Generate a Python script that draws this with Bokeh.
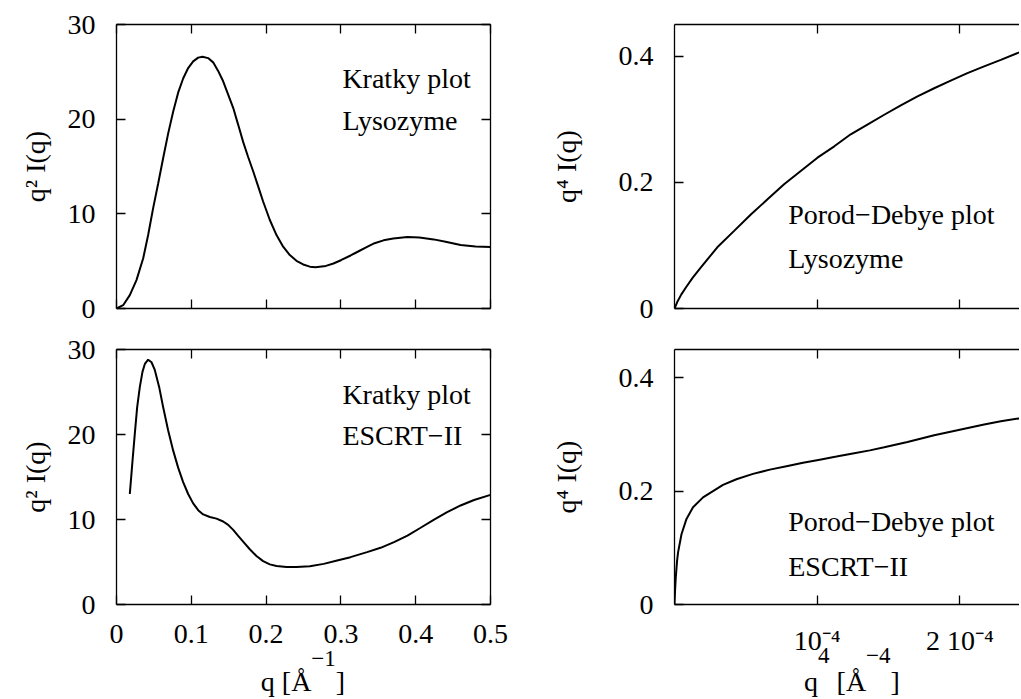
from bokeh.plotting import figure
from bokeh.layouts import gridplot, column, row
from bokeh.models import LinearAxis, FixedTicker, CustomJSTickFormatter, Label, Range1d, Div, Spacer
from bokeh.embed import file_html
from bokeh.resources import INLINE

FONT = "Liberation Serif"
FS = "28px"

# ---------------- data ----------------
# Kratky plot, Lysozyme: q [1/A] vs q^2 I(q)
lys_q = [0, 0.0089, 0.0178, 0.0267, 0.0357, 0.0423, 0.049, 0.0557, 0.0624, 0.0691,
         0.0758, 0.0824, 0.0891, 0.0958, 0.1025, 0.1092, 0.115, 0.1225, 0.1292, 0.1359,
         0.1426, 0.1493, 0.156, 0.1627, 0.1693, 0.176, 0.1827, 0.1894, 0.196, 0.205,
         0.2139, 0.2228, 0.2317, 0.2406, 0.2496, 0.2585, 0.266, 0.28, 0.29, 0.30,
         0.313, 0.325, 0.335, 0.345, 0.357, 0.37, 0.389, 0.405, 0.424, 0.44,
         0.46, 0.48, 0.5]
lys_k = [0, 0.35, 1.41, 3.0, 5.3, 7.76, 10.6, 13.2, 15.9, 18.5,
         20.8, 22.8, 24.3, 25.4, 26.1, 26.5, 26.6, 26.45, 26.0, 25.1,
         24.0, 22.6, 21.2, 19.4, 17.6, 16.0, 14.5, 12.9, 11.3, 9.35,
         7.76, 6.53, 5.64, 5.04, 4.65, 4.42, 4.35, 4.5, 4.75, 5.1,
         5.6, 6.1, 6.5, 6.9, 7.2, 7.4, 7.55, 7.5, 7.3, 7.05,
         6.7, 6.55, 6.5]

# Kratky plot, ESCRT-II
esc_q = [0.0178, 0.0214, 0.0245, 0.0276, 0.0312, 0.0348, 0.0379, 0.0423, 0.0468, 0.0512,
         0.057, 0.0624, 0.069, 0.0758, 0.0824, 0.0891, 0.0958, 0.1025, 0.1092, 0.1159,
         0.1248, 0.1337, 0.1426, 0.1493, 0.156, 0.1627, 0.1693, 0.1782, 0.1871, 0.196,
         0.205, 0.2139, 0.2273, 0.2406, 0.2585, 0.277, 0.295, 0.3128, 0.335, 0.353,
         0.371, 0.389, 0.406, 0.424, 0.442, 0.46, 0.478, 0.5]
esc_k = [13.0, 16.9, 20.1, 23.2, 25.6, 27.4, 28.3, 28.8, 28.5, 27.6,
         25.6, 23.2, 20.5, 18.1, 16.1, 14.4, 13.0, 11.9, 11.1, 10.6,
         10.3, 10.1, 9.76, 9.37, 8.78, 8.07, 7.4, 6.5, 5.7, 5.1,
         4.72, 4.53, 4.4, 4.4, 4.5, 4.78, 5.18, 5.57, 6.16, 6.67,
         7.33, 8.1, 9.0, 9.96, 10.86, 11.65, 12.3, 12.9]

# Porod-Debye plot, Lysozyme: q^4 vs q^4 I(q)
lys_q4 = [0, 0.023e-4, 0.047e-4, 0.082e-4, 0.128e-4, 0.185e-4, 0.30e-4, 0.418e-4,
          0.535e-4, 0.652e-4, 0.768e-4, 0.885e-4, 1.002e-4, 1.12e-4, 1.235e-4,
          1.352e-4, 1.47e-4, 1.586e-4, 1.703e-4, 1.82e-4, 1.936e-4, 2.053e-4,
          2.17e-4, 2.287e-4, 2.43e-4]
lys_p = [0, 0.012, 0.022, 0.034, 0.049, 0.065, 0.097, 0.123,
         0.149, 0.173, 0.197, 0.218, 0.239, 0.257, 0.276,
         0.2915, 0.307, 0.322, 0.336, 0.349, 0.361, 0.373,
         0.3836, 0.394, 0.407]

# Porod-Debye plot, ESCRT-II
esc_q4 = [0, 0.004e-4, 0.009e-4, 0.018e-4, 0.025e-4, 0.049e-4, 0.084e-4, 0.13e-4,
          0.2e-4, 0.27e-4, 0.34e-4, 0.434e-4, 0.55e-4, 0.668e-4, 0.785e-4,
          0.901e-4, 1.018e-4, 1.135e-4, 1.25e-4, 1.369e-4, 1.47e-4, 1.633e-4,
          1.82e-4, 1.983e-4, 2.17e-4, 2.287e-4, 2.43e-4]
esc_p = [0, 0.025, 0.048, 0.077, 0.092, 0.124, 0.151, 0.1717,
         0.189, 0.2, 0.211, 0.221, 0.2305, 0.238, 0.244,
         0.25, 0.2555, 0.261, 0.2665, 0.272, 0.2775, 0.2867,
         0.2986, 0.3074, 0.3175, 0.3234, 0.329]

# ticks
kratky_xticks = [0, 0.1, 0.2, 0.3, 0.4, 0.5]
kratky_xlabels = ["0", "0.1", "0.2", "0.3", "0.4", "0.5"]
kratky_yticks = [0, 10, 20, 30]
kratky_ylabels = ["0", "10", "20", "30"]
porod_xticks = [1e-4, 2e-4]
porod_xlabels = ["10\u207b\u2074", "2 10\u207b\u2074"]
porod_yticks = [0, 0.2, 0.4]
porod_ylabels = ["0", "0.2", "0.4"]

kratky_xrange = (0, 0.5)
kratky_yrange = (0, 30)
porod_xrange = (0, 2.418e-4)
porod_yrange = (0, 0.45)

# ---------------- helpers ----------------
FMT_CODE = """
let best = 0, d = Infinity;
for (let i = 0; i < tvals.length; i++) {
  const e = Math.abs(tvals[i] - tick);
  if (e < d) { d = e; best = i; }
}
return tlabels[best];
"""


def style_axis(ax, ticks, labels=None, standoff=12):
    ax.ticker = FixedTicker(ticks=ticks)
    ax.major_tick_in = 9
    ax.major_tick_out = 0
    ax.minor_tick_in = 0
    ax.minor_tick_out = 0
    ax.axis_line_color = "black"
    ax.axis_line_width = 1.3
    ax.major_tick_line_color = "black"
    ax.major_tick_line_width = 1.3
    if labels is None:
        ax.formatter = CustomJSTickFormatter(code="return '';")
        ax.major_label_text_font_size = "1px"
        ax.major_label_text_color = None
        ax.major_label_standoff = 0
    else:
        ax.formatter = CustomJSTickFormatter(args=dict(tvals=ticks, tlabels=labels), code=FMT_CODE)
        ax.major_label_text_font = FONT
        ax.major_label_text_font_size = FS
        ax.major_label_text_color = "black"
        ax.major_label_standoff = standoff


def style_label(ax, text, standoff):
    ax.axis_label = text
    ax.axis_label_text_font = FONT
    ax.axis_label_text_font_size = FS
    ax.axis_label_text_font_style = "normal"
    ax.axis_label_text_color = "black"
    ax.axis_label_standoff = standoff


def panel(width, height, bl, br, bt, bb, xr, yr):
    p = figure(width=width, height=height, x_range=Range1d(*xr), y_range=Range1d(*yr),
               output_backend="svg", toolbar_location=None,
               min_border_left=bl, min_border_right=br, min_border_top=bt, min_border_bottom=bb)
    p.xgrid.visible = False
    p.ygrid.visible = False
    p.outline_line_color = None
    p.background_fill_color = "white"
    p.border_fill_color = "white"
    return p


def add_texts(p, x, ys, texts, align="left"):
    for y, t in zip(ys, texts):
        p.add_layout(Label(x=x, y=y, text=t, text_font=FONT, text_font_size=FS,
                           text_color="black", text_baseline="alphabetic", text_align=align))


LW = 2.0
YT_STANDOFF = 21      # y tick labels
XT_STANDOFF = 20      # x tick labels

# ---------------- top-left: Kratky Lysozyme ----------------
p1 = panel(510, 328, 116, 20, 24, 20, kratky_xrange, kratky_yrange)
p1.line(lys_q, lys_k, line_color="black", line_width=LW)
style_axis(p1.xaxis[0], kratky_xticks, None)
style_axis(p1.yaxis[0], kratky_yticks, kratky_ylabels, standoff=YT_STANDOFF)
style_label(p1.yaxis[0], "q\u00b2 I(q)", 14)
ax = LinearAxis(); style_axis(ax, kratky_xticks, None); p1.add_layout(ax, "above")
ax = LinearAxis(); style_axis(ax, kratky_yticks, None); p1.add_layout(ax, "right")
add_texts(p1, 0.302, [24.25, 19.85], ["Kratky plot", "Lysozyme"])

# ---------------- top-right: Porod-Debye Lysozyme ----------------
p2 = panel(509, 328, 164, 0, 24, 20, porod_xrange, porod_yrange)
p2.line(lys_q4, lys_p, line_color="black", line_width=LW)
style_axis(p2.xaxis[0], porod_xticks, None)
style_axis(p2.yaxis[0], porod_yticks, porod_ylabels, standoff=YT_STANDOFF)
style_label(p2.yaxis[0], "q\u2074 I(q)", 34)
ax = LinearAxis(); style_axis(ax, porod_xticks, None); p2.add_layout(ax, "above")
add_texts(p2, 0.797e-4, [0.1484, 0.0788], ["Porod\u2212Debye plot", "Lysozyme"])

# ---------------- bottom-left: Kratky ESCRT-II ----------------
p3 = panel(510, 336, 116, 20, 21, 60, kratky_xrange, kratky_yrange)
p3.line(esc_q, esc_k, line_color="black", line_width=LW)
style_axis(p3.xaxis[0], kratky_xticks, kratky_xlabels, standoff=XT_STANDOFF)
style_axis(p3.yaxis[0], kratky_yticks, kratky_ylabels, standoff=YT_STANDOFF)
style_label(p3.yaxis[0], "q\u00b2 I(q)", 14)
ax = LinearAxis(); style_axis(ax, kratky_xticks, None); p3.add_layout(ax, "above")
ax = LinearAxis(); style_axis(ax, kratky_yticks, None); p3.add_layout(ax, "right")
add_texts(p3, 0.302, [24.75, 19.85], ["Kratky plot", "ESCRT\u2212II"])

# ---------------- bottom-right: Porod-Debye ESCRT-II ----------------
p4 = panel(509, 336, 164, 0, 21, 60, porod_xrange, porod_yrange)
p4.line(esc_q4, esc_p, line_color="black", line_width=LW)
style_axis(p4.xaxis[0], porod_xticks, porod_xlabels, standoff=XT_STANDOFF)
style_axis(p4.yaxis[0], porod_yticks, porod_ylabels, standoff=YT_STANDOFF)
style_label(p4.yaxis[0], "q\u2074 I(q)", 34)
ax = LinearAxis(); style_axis(ax, porod_xticks, None); p4.add_layout(ax, "above")
add_texts(p4, 0.797e-4, [0.1463, 0.0669], ["Porod\u2212Debye plot", "ESCRT\u2212II"])

grid = gridplot([[p1, p2], [p3, p4]], toolbar_location=None)

# x-axis titles (HTML text, so the superscripts can be real superscripts)
LABEL_STYLE = {"font-family": FONT, "font-size": FS, "text-align": "center",
               "line-height": "35px", "color": "black", "white-space": "nowrap"}


def sup(t, raise_px):
    return ('<span style="position:relative;top:-%dpx;font-size:23px">%s</span>' % (raise_px, t))


xlabel_left = "q [\u00c5" + sup("\u22121", 25) + "]"
xlabel_right = "q" + sup("4", 28) + " [\u00c5" + sup("\u22124", 28) + "]"

d1 = Div(text=xlabel_left, width=374, height=35, margin=0, styles=LABEL_STYLE)
d2 = Div(text=xlabel_right, width=345, height=35, margin=0,
         styles=dict(LABEL_STYLE, **{"padding-left": "11px", "box-sizing": "border-box"}))
labels_row = row(Spacer(width=116, height=35, margin=0), d1,
                 Spacer(width=184, height=35, margin=0), d2)

layout = column(grid, labels_row)

open("out.html", "w").write(file_html(layout, INLINE))
